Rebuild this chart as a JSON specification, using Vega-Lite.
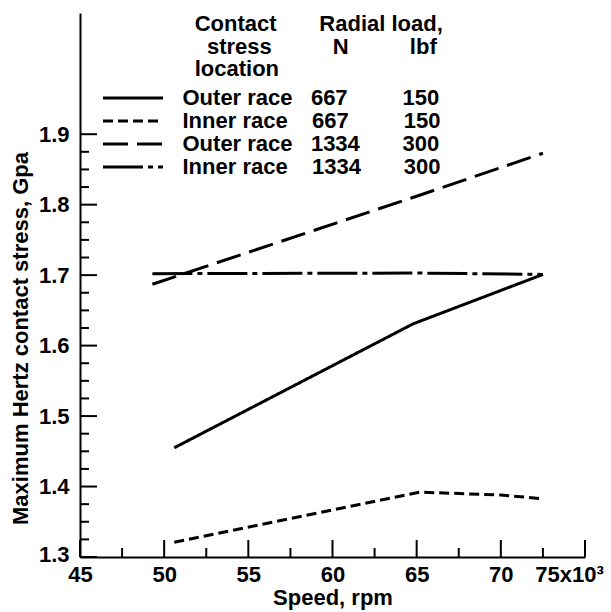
{
  "$schema": "https://vega.github.io/schema/vega-lite/v6.json",
  "width": 505,
  "height": 544,
  "autosize": {"type": "none"},
  "padding": {"left": 80, "top": 13, "right": 26, "bottom": 55},
  "background": "white",
  "config": {"view": {"stroke": null, "fill": null}, "font": "Liberation Sans"},
  "datasets": {
    "curves": [
      {"series": "Outer race, 667 N", "speed": 50.6, "stress": 1.455},
      {"series": "Outer race, 667 N", "speed": 64.8, "stress": 1.631},
      {"series": "Outer race, 667 N", "speed": 72.5, "stress": 1.701},
      {"series": "Inner race, 667 N", "speed": 50.6, "stress": 1.321},
      {"series": "Inner race, 667 N", "speed": 65.2, "stress": 1.392},
      {"series": "Inner race, 667 N", "speed": 70.0, "stress": 1.388},
      {"series": "Inner race, 667 N", "speed": 72.3, "stress": 1.383},
      {"series": "Outer race, 1334 N", "speed": 49.3, "stress": 1.687},
      {"series": "Outer race, 1334 N", "speed": 65.0, "stress": 1.812},
      {"series": "Outer race, 1334 N", "speed": 72.5, "stress": 1.873},
      {"series": "Inner race, 1334 N", "speed": 49.3, "stress": 1.702},
      {"series": "Inner race, 1334 N", "speed": 65.0, "stress": 1.703},
      {"series": "Inner race, 1334 N", "speed": 72.5, "stress": 1.701}
    ],
    "xticks": [
      {"value": 45, "kind": "major"}, {"value": 47.5, "kind": "minor"},
      {"value": 50, "kind": "major"}, {"value": 52.5, "kind": "minor"},
      {"value": 55, "kind": "major"}, {"value": 57.5, "kind": "minor"},
      {"value": 60, "kind": "major"}, {"value": 62.5, "kind": "minor"},
      {"value": 65, "kind": "major"}, {"value": 67.5, "kind": "minor"},
      {"value": 70, "kind": "major"}, {"value": 72.5, "kind": "minor"},
      {"value": 75, "kind": "major"}
    ],
    "yticks": [
      {"value": 1.3, "kind": "major"}, {"value": 1.325, "kind": "minor"}, {"value": 1.35, "kind": "minor"}, {"value": 1.375, "kind": "minor"},
      {"value": 1.4, "kind": "major"}, {"value": 1.425, "kind": "minor"}, {"value": 1.45, "kind": "minor"}, {"value": 1.475, "kind": "minor"},
      {"value": 1.5, "kind": "major"}, {"value": 1.525, "kind": "minor"}, {"value": 1.55, "kind": "minor"}, {"value": 1.575, "kind": "minor"},
      {"value": 1.6, "kind": "major"}, {"value": 1.625, "kind": "minor"}, {"value": 1.65, "kind": "minor"}, {"value": 1.675, "kind": "minor"},
      {"value": 1.7, "kind": "major"}, {"value": 1.725, "kind": "minor"}, {"value": 1.75, "kind": "minor"}, {"value": 1.775, "kind": "minor"},
      {"value": 1.8, "kind": "major"}, {"value": 1.825, "kind": "minor"}, {"value": 1.85, "kind": "minor"}, {"value": 1.875, "kind": "minor"},
      {"value": 1.9, "kind": "major"}
    ]
  },
  "layer": [
    {
      "data": {"name": "curves"},
      "mark": {"type": "line", "strokeWidth": 3, "color": "black", "strokeCap": "butt"},
      "encoding": {
        "x": {
          "field": "speed", "type": "quantitative",
          "scale": {"domain": [45, 75], "nice": false, "zero": false},
          "axis": {
            "orient": "bottom",
            "values": [45, 50, 55, 60, 65, 70, 75],
            "format": "d",
            "ticks": false, "grid": false,
            "domain": true, "domainColor": "black", "domainWidth": 2,
            "labelFont": "Liberation Sans", "labelFontSize": 22, "labelFontWeight": "bold", "labelColor": "black",
            "labelPadding": 7, "labelFlush": false, "labelOverlap": false, "labelBound": false,
            "labelExpr": "datum.value == 75 ? '75x10\u00b3' : datum.label",
            "labelOffset": {"condition": {"test": "datum.value == 75", "value": -16}, "value": 0},
            "title": "Speed, rpm",
            "titleFont": "Liberation Sans", "titleFontSize": 22, "titleFontWeight": "bold", "titleColor": "black",
            "titleBaseline": "alphabetic", "titleY": 47
          }
        },
        "y": {
          "field": "stress", "type": "quantitative",
          "scale": {"domain": [1.3, 2.072], "nice": false, "zero": false},
          "axis": {
            "orient": "left",
            "values": [1.3, 1.4, 1.5, 1.6, 1.7, 1.8, 1.9],
            "format": ".1f",
            "ticks": false, "grid": false,
            "domain": true, "domainColor": "black", "domainWidth": 2,
            "labelFont": "Liberation Sans", "labelFontSize": 22, "labelFontWeight": "bold", "labelColor": "black",
            "labelPadding": 11, "labelFlush": false, "labelOverlap": false, "labelBound": false,
            "labelOffset": {"condition": {"test": "datum.value < 1.31", "value": -3}, "value": 0},
            "title": "Maximum Hertz contact stress, Gpa",
            "titleFont": "Liberation Sans", "titleFontSize": 22, "titleFontWeight": "bold", "titleColor": "black",
            "titleAngle": -90, "titleAlign": "center", "titleBaseline": "alphabetic",
            "titleX": -53, "titleY": 325
          }
        },
        "strokeDash": {
          "field": "series", "type": "nominal",
          "scale": {
            "domain": ["Outer race, 667 N", "Inner race, 667 N", "Outer race, 1334 N", "Inner race, 1334 N"],
            "range": [[1, 0], [10, 5], [25, 9], [40, 5, 5, 5]]
          },
          "legend": {
            "orient": "none", "legendX": 23, "legendY": 1, "direction": "vertical", "padding": 0,
            "title": [
              "\u200b\u00a0\u00a0\u00a0\u00a0\u00a0\u00a0\u00a0\u00a0\u00a0\u00a0\u00a0\u00a0\u00a0\u00a0\u00a0Contact\u00a0\u00a0\u00a0\u00a0\u00a0\u00a0\u00a0Radial load,",
              "\u200b\u00a0\u00a0\u00a0\u00a0\u00a0\u00a0\u00a0\u00a0\u00a0\u00a0\u00a0\u00a0\u00a0\u00a0\u00a0\u00a0\u00a0stress\u00a0\u00a0\u00a0\u00a0\u00a0\u00a0\u00a0\u00a0\u00a0\u00a0N\u00a0\u00a0\u00a0\u00a0\u00a0\u00a0\u00a0\u00a0\u00a0\u00a0lbf",
              "\u200b\u00a0\u00a0\u00a0\u00a0\u00a0\u00a0\u00a0\u00a0\u00a0\u00a0\u00a0\u00a0\u00a0\u00a0\u00a0location"
            ],
            "titleFont": "Liberation Sans", "titleFontSize": 22, "titleFontWeight": "bold", "titleColor": "black",
            "titleLineHeight": 22.7, "titleAlign": "left", "titleAnchor": "start", "titlePadding": 5, "titleLimit": 600,
            "symbolType": "M-3,0H3", "symbolSize": 400, "symbolStrokeWidth": 3, "symbolStrokeColor": "black",
            "symbolFillColor": "transparent", "symbolOffset": 18.5,
            "labelOffset": 38, "labelFont": "Liberation Sans", "labelFontSize": 22, "labelFontWeight": "bold",
            "labelColor": "black", "labelLimit": 600, "rowPadding": 0,
            "labelExpr": "datum.value == 'Outer race, 667 N' ? 'Outer race\u00a0\u00a0\u00a0667\u00a0\u00a0\u00a0\u00a0\u00a0\u00a0\u00a0\u00a0\u00a0150' : datum.value == 'Inner race, 667 N' ? 'Inner race\u00a0\u00a0\u00a0\u00a0667\u00a0\u00a0\u00a0\u00a0\u00a0\u00a0\u00a0\u00a0\u00a0150' : datum.value == 'Outer race, 1334 N' ? 'Outer race\u00a0\u00a0\u00a01334\u00a0\u00a0\u00a0\u00a0\u00a0\u00a0\u00a0300' : 'Inner race\u00a0\u00a0\u00a0\u00a01334\u00a0\u00a0\u00a0\u00a0\u00a0\u00a0\u00a0300'"
          }
        }
      }
    },
    {
      "data": {"name": "xticks"},
      "transform": [{"filter": "datum.kind == 'major'"}],
      "mark": {"type": "rule", "strokeWidth": 2, "color": "black"},
      "encoding": {
        "x": {"field": "value", "type": "quantitative"},
        "y": {"datum": 1.3, "type": "quantitative"},
        "y2": {"datum": 1.3241}
      }
    },
    {
      "data": {"name": "xticks"},
      "transform": [{"filter": "datum.kind == 'minor'"}],
      "mark": {"type": "rule", "strokeWidth": 2, "color": "black"},
      "encoding": {
        "x": {"field": "value", "type": "quantitative"},
        "y": {"datum": 1.3, "type": "quantitative"},
        "y2": {"datum": 1.3128}
      }
    },
    {
      "data": {"name": "yticks"},
      "transform": [{"filter": "datum.kind == 'major'"}],
      "mark": {"type": "rule", "strokeWidth": 2, "color": "black"},
      "encoding": {
        "y": {"field": "value", "type": "quantitative"},
        "x": {"datum": 45, "type": "quantitative"},
        "x2": {"datum": 46.01}
      }
    },
    {
      "data": {"name": "yticks"},
      "transform": [{"filter": "datum.kind == 'minor'"}],
      "mark": {"type": "rule", "strokeWidth": 2, "color": "black"},
      "encoding": {
        "y": {"field": "value", "type": "quantitative"},
        "x": {"datum": 45, "type": "quantitative"},
        "x2": {"datum": 45.535}
      }
    }
  ]
}
